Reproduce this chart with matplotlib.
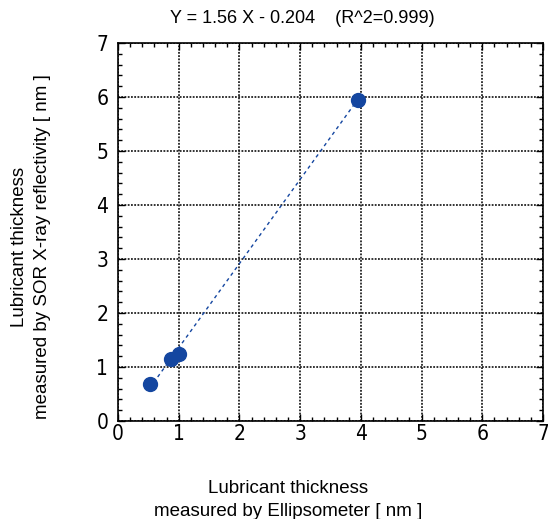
import matplotlib
matplotlib.use('Agg')
import matplotlib.pyplot as plt
from matplotlib.ticker import MultipleLocator
import numpy as np

# values
ellipsometer = [0.52, 0.87, 1.00, 3.95]
xray = [0.68, 1.14, 1.24, 5.95]
slope = 1.56
intercept = -0.204
r2 = 0.999

BLUE = '#1446a0'

fig = plt.figure(figsize=(5.48, 5.19), dpi=100)
ax = fig.add_axes([0.2153, 0.1888, 0.7757, 0.7282])

xfit = np.array([min(ellipsometer), max(ellipsometer)])
ax.plot(xfit, slope * xfit + intercept, ls=(0, (2.5, 2.5)), color=BLUE, lw=1.0, zorder=2)
ax.plot(ellipsometer, xray, 'o', color=BLUE, markersize=10, zorder=3)

ax.set_xlim(0, 7)
ax.set_ylim(0, 7)
ax.xaxis.set_major_locator(MultipleLocator(1))
ax.yaxis.set_major_locator(MultipleLocator(1))
ax.xaxis.set_minor_locator(MultipleLocator(0.2))
ax.yaxis.set_minor_locator(MultipleLocator(0.2))
ax.tick_params(which='both', direction='in', top=True, right=True)
ax.tick_params(which='major', length=5, width=1, labelsize=15)
ax.tick_params(which='minor', length=3, width=1)
ax.tick_params(axis='x', which='major', pad=2)
ax.tick_params(axis='y', which='major', pad=7)
for lab in ax.get_xticklabels() + ax.get_yticklabels():
    lab.set_family(['Liberation Sans Narrow', 'DejaVu Sans'])
    lab.set_stretch('condensed')
ax.grid(True, which='major', color='#222222', ls=(0, (1, 0.8)), lw=1.3)
for s in ax.spines.values():
    s.set_linewidth(1.2)

fig.text(0.551, 0.965, 'Y = %.2f X - %.3f    (R^2=%.3f)' % (slope, -intercept, r2),
         ha='center', va='center', fontsize=13, family='Liberation Sans')
fig.text(0.526, 0.036, 'Lubricant thickness\nmeasured by Ellipsometer [ nm ]',
         ha='center', va='center', fontsize=13.5, family='Liberation Sans', linespacing=1.45)
fig.text(0.057, 0.524, 'Lubricant thickness\nmeasured by SOR X-ray reflectivity [ nm ]',
         ha='center', va='center', rotation=90, fontsize=13.5, family='Liberation Sans', linespacing=1.45)

fig.savefig('out.png', dpi=100)
